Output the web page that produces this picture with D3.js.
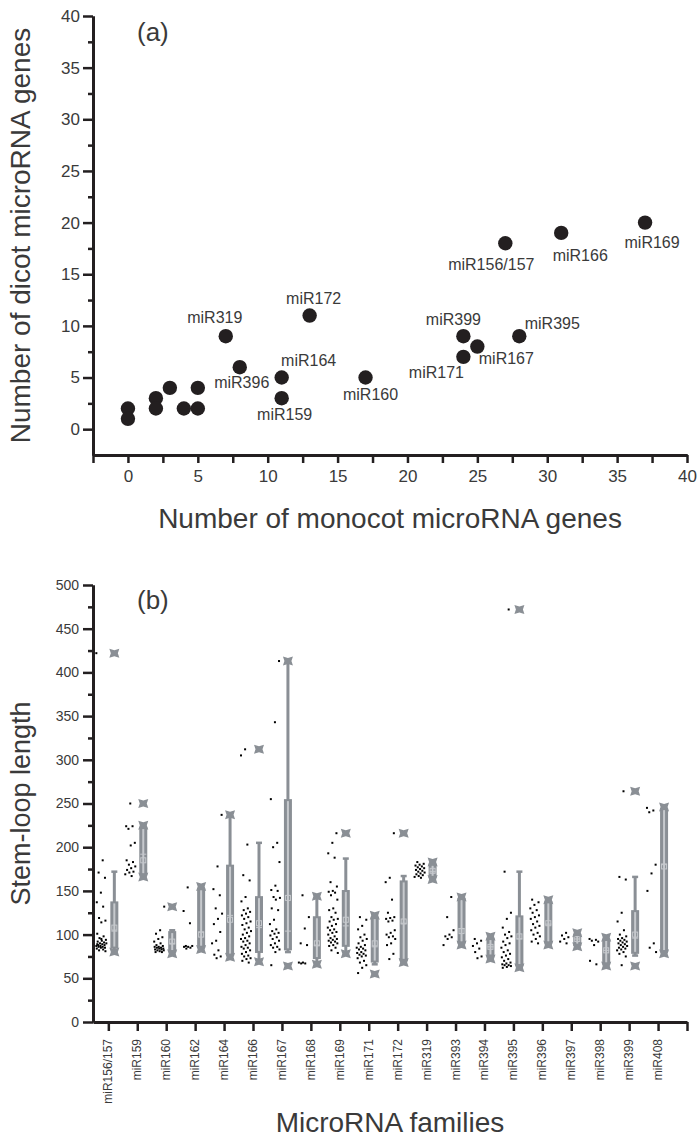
<!DOCTYPE html>
<html><head><meta charset="utf-8">
<script src="https://cdn.jsdelivr.net/npm/d3@7"></script>
<style>
html,body{margin:0;padding:0;background:#fff;}
svg{display:block;font-family:"Liberation Sans",Arial,Helvetica,sans-serif;}
</style></head><body>
<svg id="chart" width="697" height="1139"></svg>
<script>
// ---- Panel (a): miRNA gene counts, monocot vs dicot ----
const scatterNames = ["miR156/157","miR166","miR169","miR172","miR319","miR399","miR395","miR167","miR171","miR164","miR396","miR160","miR159","","","","","","","",""];
const monocotCounts = [27,31,37,13,7,24,28,25,24,11,8,17,11,0,0,2,2,3,4,5,5];
const dicotCounts   = [18,19,20,11,9,9,9,8,7,5,6,5,3,2,1,3,2,4,2,4,2];
const scatterTicks = [0,5,10,15,20,25,30,35,40];

// ---- Panel (b): stem-loop lengths per family ----
const families = ["miR156/157","miR159","miR160","miR162","miR164","miR166","miR167","miR168","miR169","miR171","miR172","miR319","miR393","miR394","miR395","miR396","miR397","miR398","miR399","miR408"];
const boxQ1     = [84,168,80,85,76,79,82,72,86,68,70,165,90,75,64,90,87,66,78,80];
const boxMedian = [104,192,90,103,122,108,104,88,110,86,113,172,107,86,95,112,95,82,96,180];
const boxMean   = [108,185,92,100,117,113,142,90,117,90,115,173,104,86,98,113,95,82,100,178];
const boxQ3     = [138,223,104,153,180,144,255,121,151,120,162,181,142,96,122,138,101,95,128,245];
const whiskerLo = [80,166,78,83,74,69,80,66,78,66,68,163,88,72,62,88,86,64,76,78];
const whiskerHi = [172,225,105,155,237,205,413,144,187,122,167,183,143,98,172,140,102,97,166,246];
const crossMarks = [[80,422],[166,225,250],[78,132],[83,155],[74,237],[69,312],[64,413],[66,144],[78,216],[55,122],[68,216],[163,183],[88,143],[72,98],[62,472],[88,140],[86,102],[64,97],[64,264],[78,246]];
const stemLoops = [
  [422,185,171,165,148,137,132,119,116,114,101,98,96,94,93,92,91,90,90,89,88,88,87,87,86,86,85,85,84,83,82,81,95,89],
  [250,224,224,221,205,202,185,183,180,178,176,174,172,171,169,167],
  [132,105,101,97,95,92,90,88,87,86,86,85,85,84,84,83,83,82,82,81,80,80],
  [154,127,113,87,87,86,86,85,84],
  [237,178,152,145,130,124,118,112,103,93,90,82,77,75,73],
  [312,305,203,168,162,143,138,130,128,126,124,122,120,118,115,113,111,108,106,104,102,100,98,96,95,93,92,90,88,86,85,84,82,80,78,76,75,73,72,70,68],
  [413,343,255,205,200,183,156,151,150,143,142,140,130,128,117,112,106,104,102,101,99,97,95,93,90,88,86,85,83,80,65],
  [145,120,107,90,88,68,68,67,67],
  [216,205,193,188,160,155,150,149,148,145,140,130,128,125,120,118,117,115,112,110,108,106,105,103,102,100,98,96,95,94,93,92,91,90,88,87,85,82,79],
  [120,117,110,106,100,97,95,93,90,88,86,85,84,83,82,80,79,78,77,76,75,73,70,68,65,62,56],
  [216,165,160,140,125,120,119,118,116,115,105,102,100,98,97,95,90,88,78,72],
  [183,181,180,179,178,177,176,175,174,173,172,171,170,169,168,167,166,165],
  [143,120,105,100,98,97,95,88],
  [95,93,90,87,84,80,75,73],
  [472,172,125,118,108,103,100,98,96,92,90,88,85,82,80,78,76,74,72,70,68,67,66,65,65,64,63,62],
  [140,137,134,130,128,125,122,120,118,115,112,110,108,105,102,100,98,95,92,90],
  [102,99,97,95,92,90],
  [95,94,93,92,88,70,66],
  [264,166,163,125,115,105,100,98,96,95,94,93,92,91,90,89,88,87,86,85,84,83,82,80,78,75,65],
  [245,242,240,180,170,150,90,85,80]
];
const stemTicks = [0,50,100,150,200,250,300,350,400,450,500];

// label placement around scatter points, in px
const labelOffsets = [[-14,27],[19,28],[7,25],[4,-12],[-11,-13],[-10,-11],[33,-7],[29,17],[-27,21],[27,-12],[2,21],[5,22],[3,22]];

const ink = "#231f20", textInk = "#3a3a3a";
const boxGray = "#8a8f95", boxLight = "#c6c9cd";
const svg = d3.select("#chart");

function styleAxis(g){
  g.select(".domain").attr("stroke", ink).attr("stroke-width", 3);
  g.selectAll(".tick line").attr("stroke", ink).attr("stroke-width", 2.5);
  g.selectAll(".tick text").attr("fill", textInk).attr("font-family", "Liberation Sans, Arial, sans-serif");
}

// ===== Panel (a) =====
const xa = d3.scaleLinear().domain([-2.5, 40]).range([93, 687]);
const ya = d3.scaleLinear().domain([-2.5, 40]).range([455, 16]);
const minorA = d3.range(-2.5, 40, 5);

const ax = svg.append("g").attr("transform", `translate(0,${ya(-2.5)})`);
ax.append("g").call(d3.axisBottom(xa).tickValues(minorA).tickSize(8).tickFormat("").tickSizeOuter(0)).call(styleAxis);
ax.append("g").call(d3.axisBottom(xa).tickValues(scatterTicks).tickSize(8).tickPadding(6).tickSizeOuter(0)).call(styleAxis)
  .selectAll(".tick text").attr("font-size", 17).attr("dy", "0.75em");

const ay = svg.append("g").attr("transform", `translate(${xa(-2.5)},0)`);
ay.append("g").call(d3.axisLeft(ya).tickValues(d3.range(2.5, 40, 5)).tickSize(5).tickFormat("").tickSizeOuter(0)).call(styleAxis);
ay.append("g").call(d3.axisLeft(ya).tickValues(scatterTicks).tickSize(10).tickPadding(3).tickSizeOuter(0)).call(styleAxis)
  .selectAll(".tick text").attr("font-size", 17);

svg.append("g").selectAll("circle").data(monocotCounts).join("circle")
  .attr("cx", d => xa(d)).attr("cy", (d, i) => ya(dicotCounts[i])).attr("r", 7.2).attr("fill", ink);

svg.append("g").selectAll("text").data(labelOffsets).join("text")
  .attr("x", (o, i) => xa(monocotCounts[i]) + o[0])
  .attr("y", (o, i) => ya(dicotCounts[i]) + o[1])
  .attr("text-anchor", "middle").attr("font-size", 16).attr("fill", textInk)
  .text((o, i) => scatterNames[i]);

svg.append("text").attr("x", 137).attr("y", 41).attr("font-size", 26).attr("fill", textInk).text("(a)");
svg.append("text").attr("x", 390).attr("y", 528).attr("text-anchor", "middle").attr("font-size", 28).attr("fill", textInk)
  .text("Number of monocot microRNA genes");
svg.append("text").attr("transform", `translate(30,${(ya(40)+ya(-2.5))/2}) rotate(-90)`).attr("text-anchor", "middle")
  .attr("font-size", 28).attr("fill", textInk).text("Number of dicot microRNA genes");

// ===== Panel (b) =====
const xb = d3.scaleLinear().domain([-0.53, 20]).range([93, 687]);
const yb = d3.scaleLinear().domain([0, 500]).range([1022, 585]);

const bx = svg.append("g").attr("transform", `translate(0,${yb(0)})`);
bx.append("g").call(d3.axisBottom(xb).tickValues(d3.range(0, 21)).tickSize(9).tickFormat("").tickSizeOuter(0)).call(styleAxis);
bx.append("g").selectAll("text").data(families).join("text")
  .attr("transform", (d, i) => `translate(${xb(i) + 4},17) rotate(-90)`)
  .attr("text-anchor", "end").attr("font-size", 12).attr("fill", textInk).text(d => d);

const by = svg.append("g").attr("transform", `translate(${xb(-0.53)},0)`);
by.append("g").call(d3.axisLeft(yb).tickValues(d3.range(25, 500, 50)).tickSize(5).tickFormat("").tickSizeOuter(0)).call(styleAxis);
by.append("g").call(d3.axisLeft(yb).tickValues(stemTicks).tickSize(10).tickPadding(4).tickSizeOuter(0)).call(styleAxis)
  .selectAll(".tick text").attr("font-size", 14);

// jittered raw points, left of each category tick (deterministic spread)
const dotLayer = svg.append("g");
stemLoops.forEach((vals, i) => {
  dotLayer.selectAll(null).data(vals).join("rect")
    .attr("x", (v, j) => xb(i) - 12 + 10 * (((j * 37 + i * 11) % 23) / 22) - 1)
    .attr("y", v => yb(v) - 1)
    .attr("width", 2).attr("height", 2).attr("fill", "#000");
});

// box summaries, right of each category tick
const boxW = 8, boxOff = 6;
const crossPath = "M-5,-4.5 L0,-3 L5,-4.5 L3.5,0 L5,4.5 L0,3 L-5,4.5 L-3.5,0 Z";
const boxLayer = svg.append("g");
families.forEach((f, i) => {
  const cx = xb(i) + boxOff;
  const g = boxLayer.append("g");
  g.append("line").attr("x1", cx).attr("x2", cx).attr("y1", yb(whiskerLo[i])).attr("y2", yb(whiskerHi[i]))
    .attr("stroke", boxGray).attr("stroke-width", 3);
  [whiskerLo[i], whiskerHi[i]].forEach(v => g.append("line").attr("x1", cx - 3).attr("x2", cx + 3)
    .attr("y1", yb(v)).attr("y2", yb(v)).attr("stroke", boxGray).attr("stroke-width", 2.5));
  g.append("rect").attr("x", cx - boxW / 2).attr("y", yb(boxQ3[i])).attr("width", boxW)
    .attr("height", yb(boxQ1[i]) - yb(boxQ3[i])).attr("fill", boxGray);
  g.append("rect").attr("x", cx - 1).attr("y", yb(boxQ3[i]) + 2).attr("width", 2)
    .attr("height", Math.max(0, yb(boxQ1[i]) - yb(boxQ3[i]) - 4)).attr("fill", boxLight);
  g.append("line").attr("x1", cx - 3).attr("x2", cx + 3).attr("y1", yb(boxMedian[i])).attr("y2", yb(boxMedian[i]))
    .attr("stroke", boxLight).attr("stroke-width", 1);
  g.append("rect").attr("x", cx - 2.5).attr("y", yb(boxMean[i]) - 2.5).attr("width", 5).attr("height", 5)
    .attr("fill", "none").attr("stroke", boxLight).attr("stroke-width", 1);
  crossMarks[i].forEach(v => g.append("path").attr("d", crossPath)
    .attr("transform", `translate(${cx},${yb(v)})`).attr("fill", boxGray));
});

svg.append("text").attr("x", 137).attr("y", 609).attr("font-size", 26).attr("fill", textInk).text("(b)");
svg.append("text").attr("x", 390).attr("y", 1132).attr("text-anchor", "middle").attr("font-size", 28).attr("fill", textInk)
  .text("MicroRNA families");
svg.append("text").attr("transform", `translate(30,${(yb(0)+yb(500))/2}) rotate(-90)`).attr("text-anchor", "middle")
  .attr("font-size", 27).attr("fill", textInk).text("Stem-loop length");
</script>
</body></html>
